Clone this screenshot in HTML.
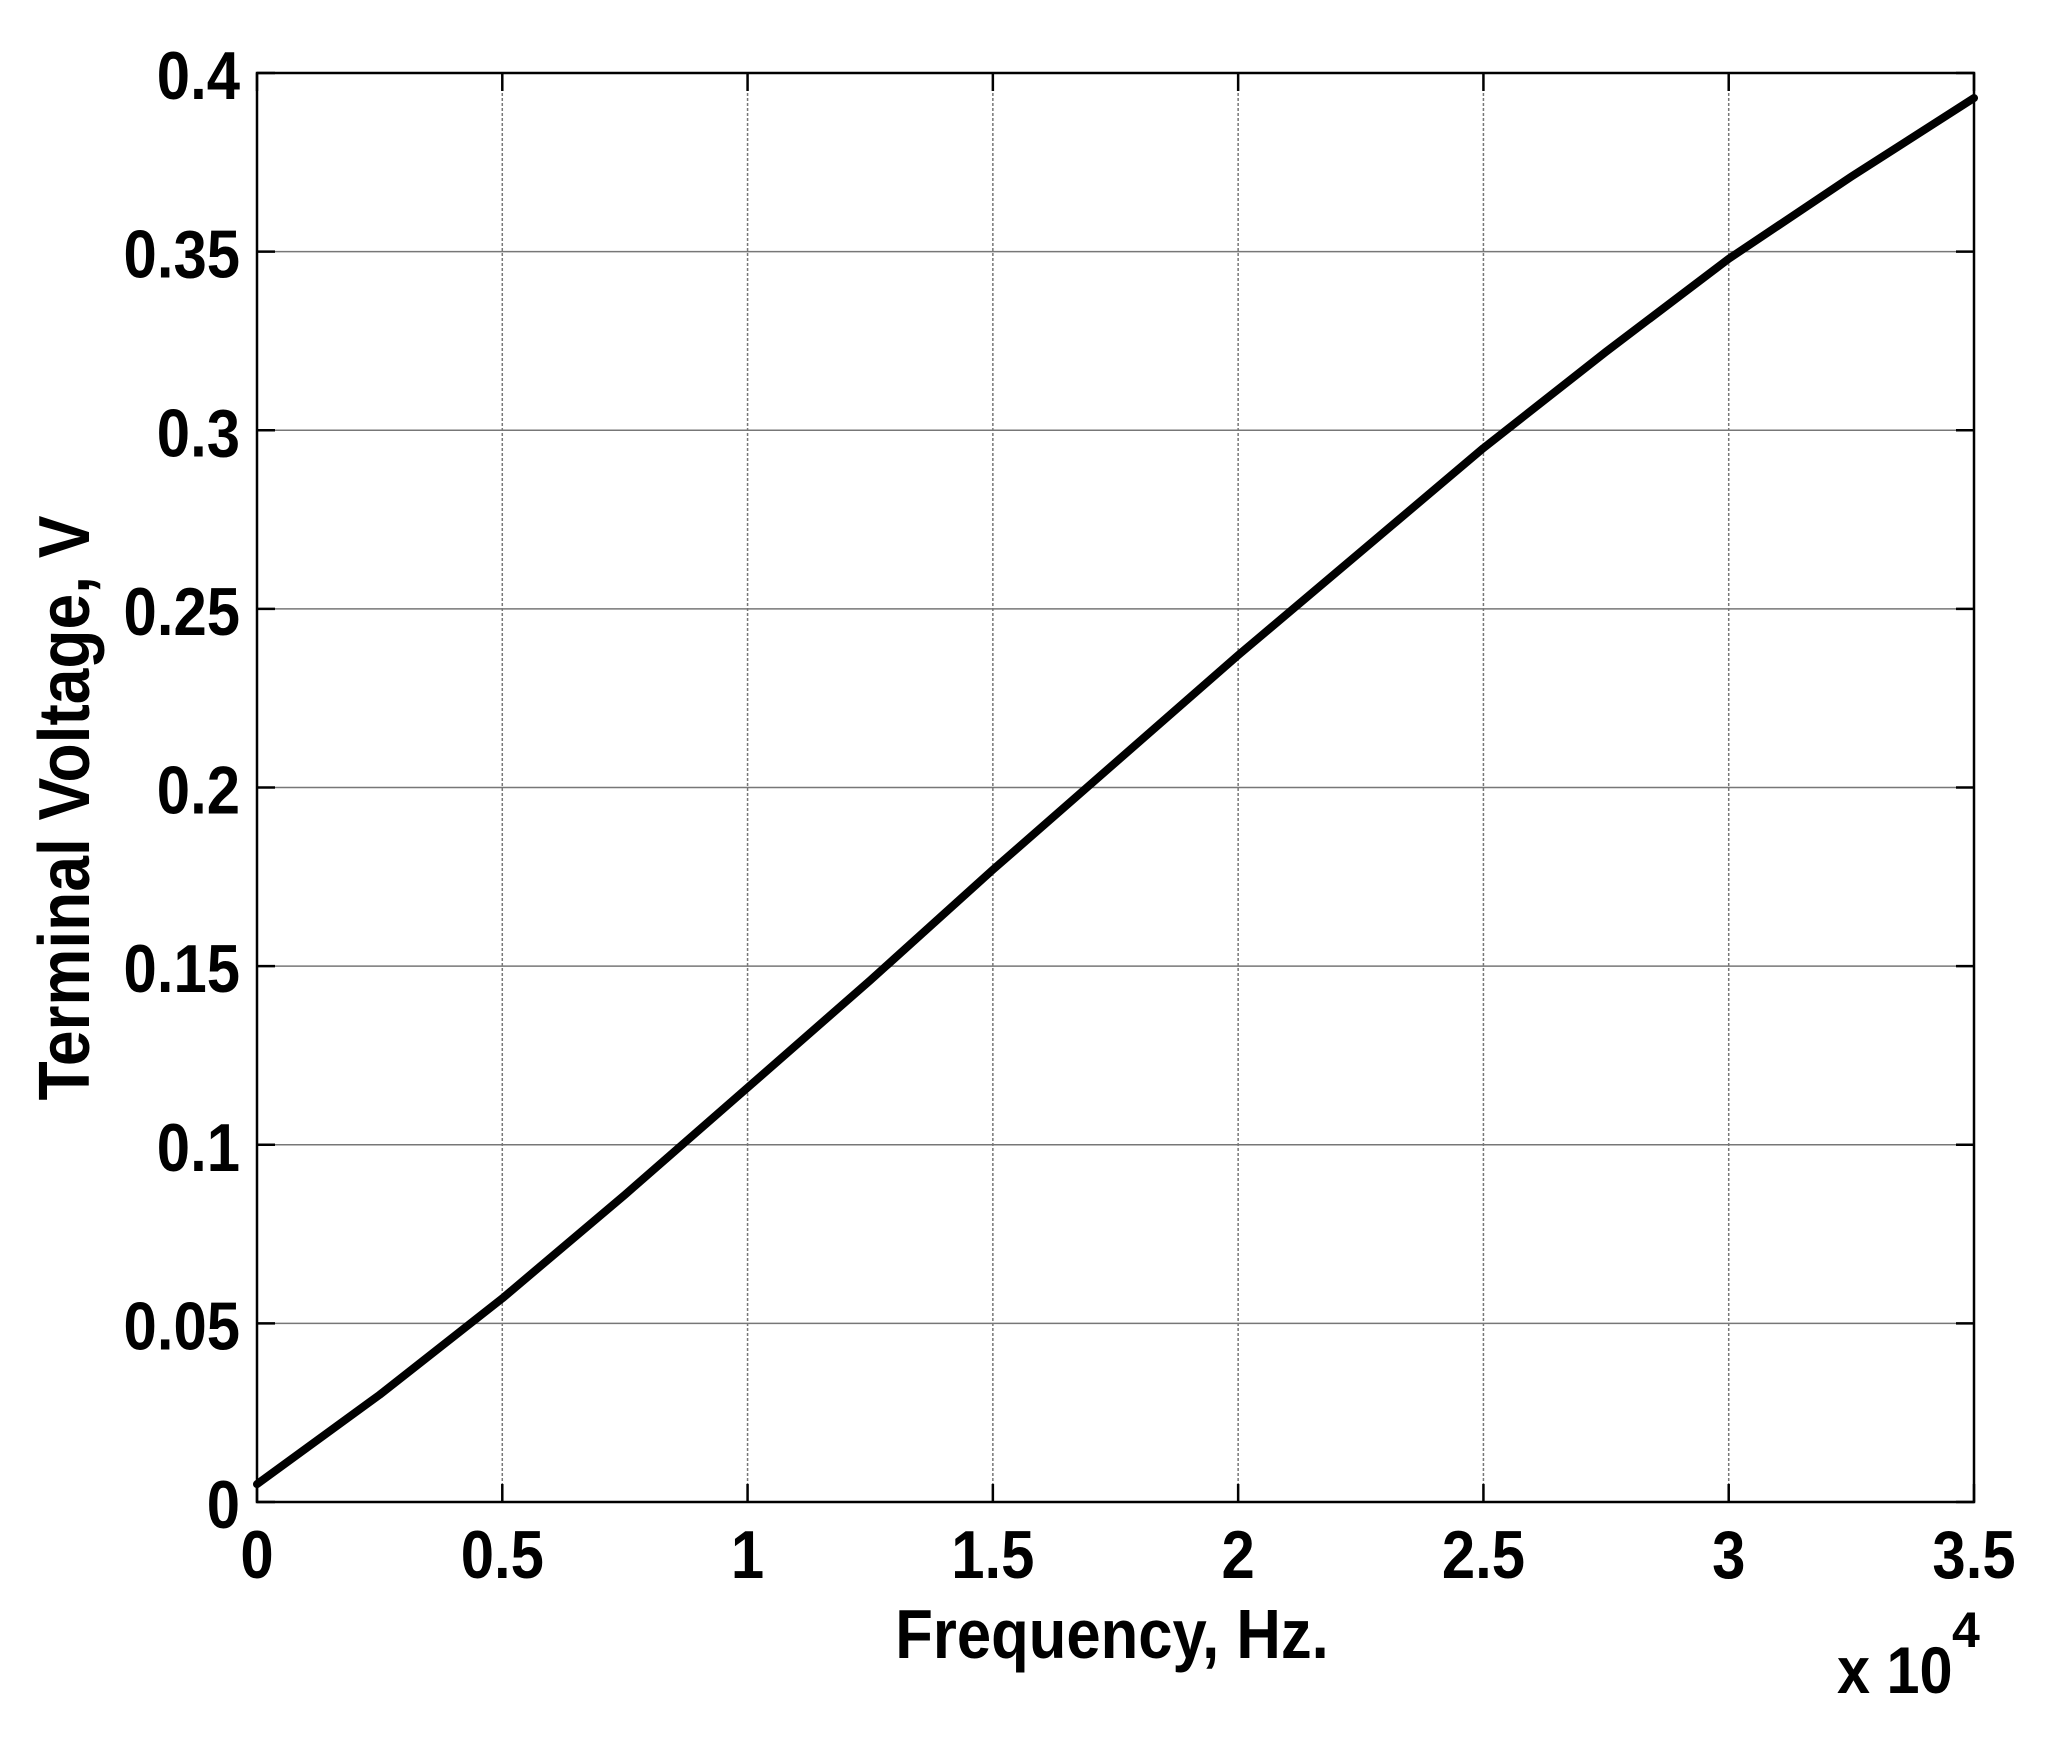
<!DOCTYPE html>
<html><head><meta charset="utf-8"><style>
html,body{margin:0;padding:0;background:#fff;}
svg{display:block;font-family:"Liberation Sans",sans-serif;font-weight:bold;}
</style></head><body>
<svg id="chart" width="2068" height="1738" viewBox="0 0 2068 1738" xmlns="http://www.w3.org/2000/svg">
<g id="grid"></g>
<g id="ticks"></g>
<rect x="257" y="73" width="1717" height="1429" fill="none" stroke="#000" stroke-width="2.5"/>
<g id="series"></g>
<g id="labels"></g>
<text x="1112" y="1658" font-size="70" text-anchor="middle" transform="translate(1112 0) scale(0.88 1) translate(-1112 0)">Frequency, Hz.</text>
<text x="1837" y="1693" font-size="66" transform="translate(1837 0) scale(0.9 1) translate(-1837 0)">x 10</text>
<text x="1952" y="1647" font-size="50">4</text>
<text x="0" y="0" font-size="72" text-anchor="middle" transform="translate(64 808) rotate(-90) scale(0.89 1) translate(0 25)">Terminal Voltage, V</text>
</svg>
<script>
const xTicks = [0, 0.5, 1, 1.5, 2, 2.5, 3, 3.5];
const xTickLabels = ["0", "0.5", "1", "1.5", "2", "2.5", "3", "3.5"];
const yTicks = [0, 0.05, 0.1, 0.15, 0.2, 0.25, 0.3, 0.35, 0.4];
const yTickLabels = ["0", "0.05", "0.1", "0.15", "0.2", "0.25", "0.3", "0.35", "0.4"];
const freqX = [0, 0.25, 0.5, 0.75, 1, 1.25, 1.5, 1.75, 2, 2.25, 2.5, 2.75, 3, 3.25, 3.5];
const voltage = [0.005, 0.030, 0.057, 0.086, 0.116, 0.146, 0.177, 0.207, 0.237, 0.266, 0.295, 0.322, 0.348, 0.371, 0.393];

const L = 257, R = 1974, T = 73, B = 1502;
const xs = v => L + (v - 0) / 3.5 * (R - L);
const ys = v => B - (v - 0) / 0.4 * (B - T);
const NS = "http://www.w3.org/2000/svg";
function mk(tag, attrs, parent) {
  const e = document.createElementNS(NS, tag);
  for (const k in attrs) e.setAttribute(k, attrs[k]);
  parent.appendChild(e);
  return e;
}
const grid = document.getElementById('grid');
const ticks = document.getElementById('ticks');
const labels = document.getElementById('labels');
xTicks.forEach((v, i) => {
  const x = xs(v);
  if (i > 0 && i < xTicks.length - 1) {
    const g = mk('line', {x1: x, x2: x, y1: T, y2: B, stroke: '#777', 'stroke-width': 1.5, 'stroke-dasharray': '3 2'}, grid);
    
    
  }
  const t1 = mk('line', {x1: x, x2: x, y1: B, y2: B - 18, stroke: '#000', 'stroke-width': 2.5}, ticks);
  
  
  const t2 = mk('line', {x1: x, x2: x, y1: T, y2: T + 18, stroke: '#000', 'stroke-width': 2.5}, ticks);
  
  
  const t = mk('text', {x: 0, y: 0, 'font-size': 68, 'text-anchor': 'middle', transform: `translate(${x} 1578) scale(0.88 1)`}, labels);
  t.textContent = xTickLabels[i];
  
  
});
yTicks.forEach((v, i) => {
  const y = ys(v);
  if (i > 0 && i < yTicks.length - 1) {
    const g = mk('line', {x1: L, x2: R, y1: y, y2: y, stroke: '#777', 'stroke-width': 1.5}, grid);
    
    
  }
  const t1 = mk('line', {x1: L, x2: L + 18, y1: y, y2: y, stroke: '#000', 'stroke-width': 2.5}, ticks);
  
  
  const t2 = mk('line', {x1: R, x2: R - 18, y1: y, y2: y, stroke: '#000', 'stroke-width': 2.5}, ticks);
  
  
  const t = mk('text', {x: 0, y: 0, 'font-size': 68, 'text-anchor': 'end', transform: `translate(240 ${y + 26}) scale(0.88 1)`}, labels);
  t.textContent = yTickLabels[i];
  
  
});
const series = document.getElementById('series');
const pts = freqX.map((f, i) => xs(f).toFixed(1) + ',' + ys(voltage[i]).toFixed(1)).join(' ');
const line = mk('polyline', {points: pts, fill: 'none', stroke: '#000', 'stroke-width': 8, 'stroke-linejoin': 'round', 'stroke-linecap': 'round'}, series);


</script>
</body></html>
